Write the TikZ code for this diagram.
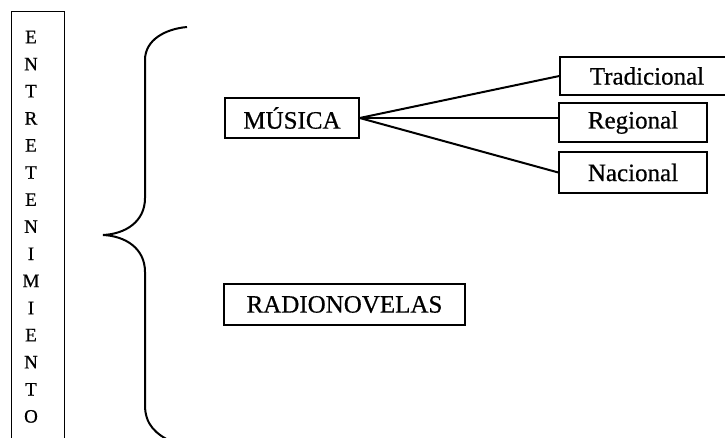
\documentclass[tikz,border=0pt]{standalone}
\usepackage{fontspec}
\setmainfont{Liberation Serif}
\newfontfamily\scanfont{Liberation Serif}[FakeBold=0.6]
\begin{document}
\begin{tikzpicture}[x=1pt,y=-1pt,
  box/.style={draw, line width=1.4pt, inner sep=0pt, font=\scanfont\fontsize{25}{28}\selectfont},
  link/.style={line width=2pt},
  letter/.style={inner sep=0pt, font=\scanfont\fontsize{19}{22}\selectfont}]
\useasboundingbox (0,0) rectangle (725,438);
\clip (0,0) rectangle (725,438);
% vertical title box (open at the bottom)
\draw[line width=1pt] (11,450) -- (11,12) -- (64,12) -- (64,450);
\foreach \l [count=\i] in {E,N,T,R,E,T,E,N,I,M,I,E,N,T,O}
  \node[letter] (L\i) at (31,{37+27.1*(\i-1)}) {\l};
% brace
\draw[line width=2pt]
  (187,27) .. controls (165,29) and (145,40) .. (145,60) -- (145,198)
  .. controls (145,222) and (125,234) .. (103,235)
  .. controls (125,236) and (145,248) .. (145,272) -- (145,405)
  .. controls (145,425) and (156,434) .. (172,442);
% boxes
\node[box, minimum width=134pt, minimum height=40pt] (musica) at (292,118) {MÚSICA};
\node[box, minimum width=241pt, minimum height=41pt] (radio) at (344.5,304.5) {RADIONOVELAS};
\node[box, minimum width=174pt, minimum height=38pt] (trad) at (647,76) {Tradicional};
\node[box, minimum width=148pt, minimum height=39pt] (reg) at (633,122.5) {Regional};
\node[box, minimum width=148pt, minimum height=41pt] (nac) at (633,172.5) {Nacional};
% connectors
\draw[link] (musica.east) -- (trad.west);
\draw[link] (musica.east) -- (musica.east -| reg.west);
\draw[link] (musica.east) -- (nac.west);
\end{tikzpicture}
\end{document}
